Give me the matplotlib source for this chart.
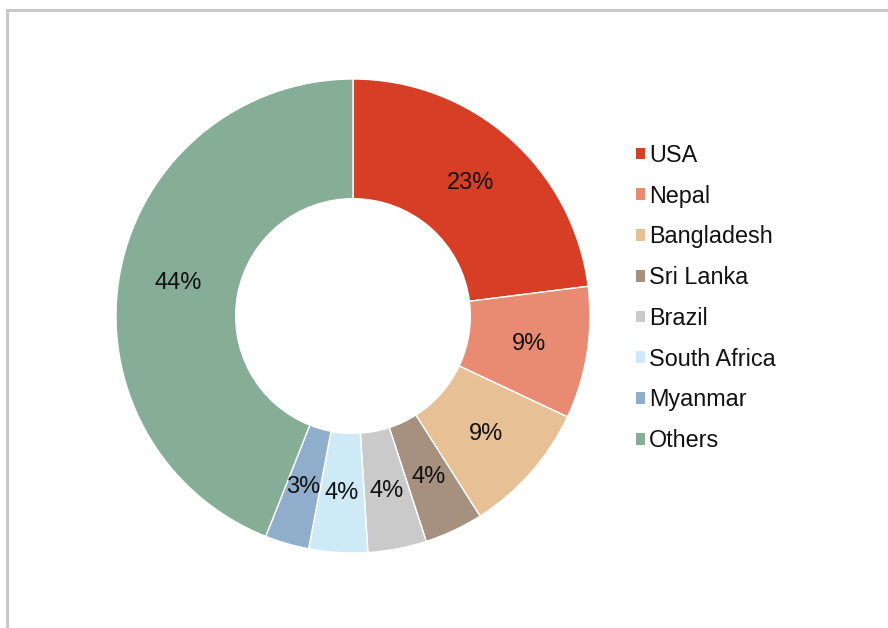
import matplotlib
matplotlib.use("Agg")
import matplotlib.pyplot as plt
from matplotlib.patches import Patch
from matplotlib.lines import Line2D

plt.rcParams['font.family'] = ['Liberation Sans', 'DejaVu Sans']

categories = ["USA", "Nepal", "Bangladesh", "Sri Lanka", "Brazil", "South Africa", "Myanmar", "Others"]
values = [23, 9, 9, 4, 4, 4, 3, 44]
colors = ["#D63E25", "#E98B72", "#E8C096", "#A69080", "#CACACA", "#CEEAF7", "#8FAECB", "#86AE97"]

W, H = 888, 628
fig = plt.figure(figsize=(W / 100, H / 100), dpi=100)
fig.patch.set_facecolor("white")

cx, cy, R = 353, 316, 237
ax = fig.add_axes([(cx - R) / W, (H - cy - R) / H, 2 * R / W, 2 * R / H])
wedges, texts, autotexts = ax.pie(
    values, colors=colors, startangle=90, counterclock=False, radius=1.0,
    autopct=lambda p: f"{p:.0f}%", pctdistance=0.75,
    wedgeprops=dict(width=0.505, edgecolor="white", linewidth=1.0),
    textprops=dict(fontsize=17, color="#111111"))
ax.set_xlim(-1, 1)
ax.set_ylim(-1, 1)
ax.set_aspect("equal")
ax.axis("off")

handles = [Patch(facecolor=c, edgecolor="none") for c in colors]
fig.legend(handles, categories, loc="center left",
           bbox_to_anchor=(636 / W, 1 - 298 / H), frameon=False,
           fontsize=16.8, handlelength=0.4, handleheight=0.4,
           handletextpad=0.15, labelspacing=0.76, borderpad=0, borderaxespad=0,
           labelcolor="#111111")

# chart-area border (top and left edges visible)
fig.add_artist(Line2D([6.5 / W, 6.5 / W], [0, 1 - 9.5 / H], color="#C8C8C8", lw=2.2, transform=fig.transFigure))
fig.add_artist(Line2D([6.5 / W, 1], [1 - 9.5 / H, 1 - 9.5 / H], color="#C8C8C8", lw=2.2, transform=fig.transFigure))

fig.savefig("out.png", dpi=100)
